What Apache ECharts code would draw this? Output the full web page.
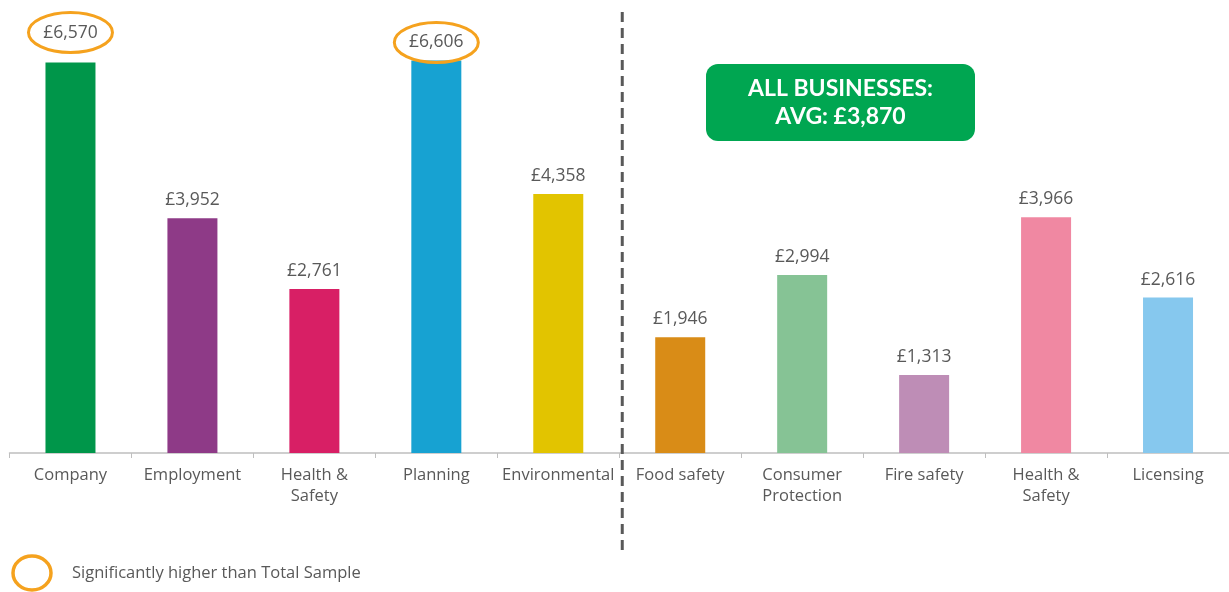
<!DOCTYPE html>
<html>
<head>
<meta charset="utf-8">
<script src="https://cdn.jsdelivr.net/npm/echarts@6/dist/echarts.min.js"></script>
<style>
  html, body { margin: 0; padding: 0; background: #fff; }
  #chart { width: 1229px; height: 592px; }
</style>
</head>
<body>
<div id="chart"></div>
<script>
  // categories and average cost per category
  var categories = ['Company', 'Employment', 'Health &\nSafety', 'Planning', 'Environmental',
    'Food safety', 'Consumer\nProtection', 'Fire safety', 'Health &\nSafety', 'Licensing'];
  var values = [6570, 3952, 2761, 6606, 4358, 1946, 2994, 1313, 3966, 2616];
  // significantly higher than total sample
  var significant = [true, false, false, true, false, false, false, false, false, false];
  var avgLabel = ['ALL BUSINESSES:', 'AVG: £3,870'];
  var legendText = 'Significantly higher than Total Sample';

  var barColors = ['#00964A', '#8E3A87', '#D81F65', '#17A2D2', '#E2C400',
    '#D98C17', '#86C395', '#BE8DB6', '#F088A2', '#86C8EE'];
  var textColor = '#595959';
  var ringColor = '#F5A21E';
  var font = '"Open Sans", Lato, sans-serif';

  function money(v) {
    return '£' + String(v).replace(/\B(?=(\d{3})+(?!\d))/g, ',');
  }

  var myChart = echarts.init(document.getElementById('chart'));

  myChart.setOption({
    animation: false,
    grid: { left: 9.5, width: 1223, top: 37, height: 416 },
    xAxis: {
      type: 'category',
      data: categories,
      axisLine: { show: true, lineStyle: { color: '#BFBFBF', width: 1.5 } },
      axisTick: { show: true, length: 5, lineStyle: { color: '#BFBFBF' } },
      axisLabel: {
        interval: 0,
        color: textColor,
        fontFamily: font,
        fontSize: 16.5,
        lineHeight: 21,
        margin: 12
      }
    },
    yAxis: {
      type: 'value',
      min: 0,
      max: 7000,
      show: false,
      splitLine: { show: false }
    },
    series: [{
      type: 'bar',
      barWidth: 50,
      data: values.map(function (v, i) {
        var item = { value: v, itemStyle: { color: barColors[i] } };
        if (i === 0) item.label = { distance: 21 };
        return item;
      }),
      label: {
        show: true,
        position: 'top',
        distance: 9,
        color: textColor,
        fontFamily: font,
        fontSize: 17.5,
        lineHeight: 18,
        formatter: function (p) { return money(p.value); }
      }
    }]
  });

  // annotations placed through the chart's own scales
  var graphics = [];
  values.forEach(function (v, i) {
    if (!significant[i]) return;
    var pt = myChart.convertToPixel({ seriesIndex: 0 }, [i, v]);
    var dist = i === 0 ? 21 : 9;
    graphics.push({
      type: 'ellipse',
      shape: { cx: pt[0], cy: pt[1] - dist - 9, rx: 42, ry: 20 },
      style: { fill: 'none', stroke: ringColor, lineWidth: 3 },
      z: 10
    });
  });

  var xa = myChart.convertToPixel({ seriesIndex: 0 }, [4, 0]);
  var xb = myChart.convertToPixel({ seriesIndex: 0 }, [5, 0]);
  var sepX = (xa[0] + xb[0]) / 2 + 3;
  graphics.push({
    type: 'line',
    shape: { x1: sepX, y1: 12, x2: sepX, y2: 553 },
    style: { stroke: '#595959', lineWidth: 3, lineDash: [10, 6] },
    z: 10
  });

  graphics.push({
    type: 'group',
    left: 706,
    top: 64,
    children: [{
      type: 'rect',
      shape: { x: 0, y: 0, width: 269, height: 77, r: 12 },
      style: { fill: '#00A651' }
    }, {
      type: 'text',
      x: 134.5,
      y: 39,
      style: {
        text: avgLabel.join('\n'),
        fill: '#fff',
        font: 'bold 23px Lato, sans-serif',
        lineHeight: 28,
        align: 'center',
        verticalAlign: 'middle'
      }
    }]
  });

  graphics.push({
    type: 'ellipse',
    shape: { cx: 32, cy: 573, rx: 19, ry: 17 },
    style: { fill: 'none', stroke: ringColor, lineWidth: 3.5 }
  });
  graphics.push({
    type: 'text',
    x: 72,
    y: 573,
    style: {
      text: legendText,
      fill: textColor,
      font: '16.5px ' + font,
      verticalAlign: 'middle'
    }
  });

  myChart.setOption({ graphic: graphics });
</script>
</body>
</html>
